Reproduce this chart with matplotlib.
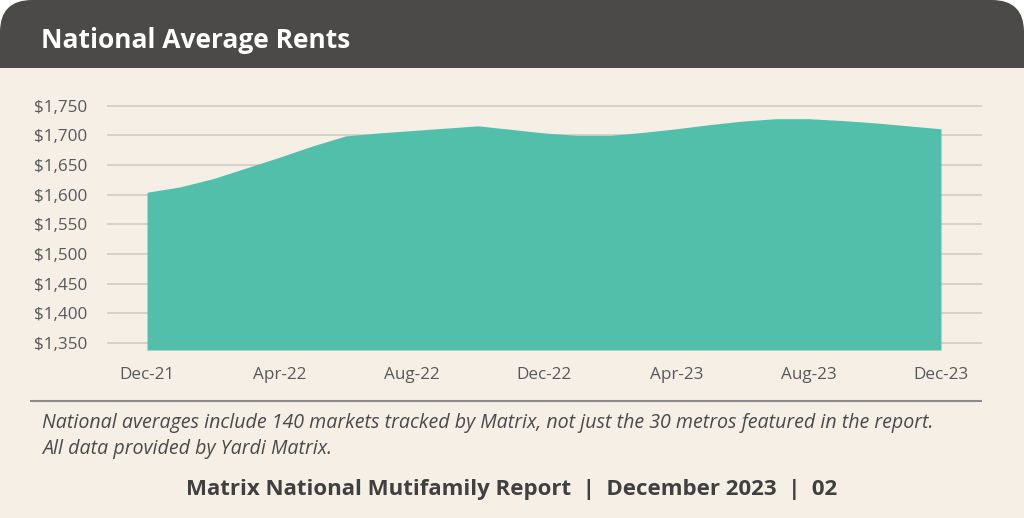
import matplotlib
matplotlib.use('Agg')
import matplotlib.pyplot as plt
from matplotlib.patches import FancyBboxPatch, Rectangle

# monthly national average rent, Dec-21 .. Dec-23
months = ['Dec-21', 'Jan-22', 'Feb-22', 'Mar-22', 'Apr-22', 'May-22', 'Jun-22',
          'Jul-22', 'Aug-22', 'Sep-22', 'Oct-22', 'Nov-22', 'Dec-22',
          'Jan-23', 'Feb-23', 'Mar-23', 'Apr-23', 'May-23', 'Jun-23',
          'Jul-23', 'Aug-23', 'Sep-23', 'Oct-23', 'Nov-23', 'Dec-23']
rents = [1604, 1613, 1627, 1645, 1663, 1682, 1699,
         1704, 1708, 1712, 1716, 1710, 1704,
         1700, 1700, 1705, 1711, 1718, 1724,
         1728, 1728, 1725, 1721, 1716, 1711]
tick_labels = ['Dec-21', 'Apr-22', 'Aug-22', 'Dec-22', 'Apr-23', 'Aug-23', 'Dec-23']
y_ticks = [1350, 1400, 1450, 1500, 1550, 1600, 1650, 1700, 1750]

title = 'National Average Rents'
note_1 = 'National averages include 140 markets tracked by Matrix, not just the 30 metros featured in the report.'
note_2 = 'All data provided by Yardi Matrix.'
footer = 'Matrix National Mutifamily Report  |  December 2023  |  02'

FONT = 'Open Sans'
CREAM = '#F5EFE6'
DARK = '#4B4A48'
TEAL = '#52BFAA'
GRID = '#D4CAC0'
TXT = '#58585A'

W, H = 1024, 518
fig = plt.figure(figsize=(W / 100, H / 100), dpi=100)
fig.patch.set_facecolor('white')

# background layer in pixel units
bg = fig.add_axes([0, 0, 1, 1])
bg.set_xlim(0, W)
bg.set_ylim(H, 0)
bg.axis('off')
bg.add_patch(FancyBboxPatch((0, 0), W, H + 60, boxstyle='round,pad=0,rounding_size=32',
                            facecolor=DARK, edgecolor='none'))
bg.add_patch(Rectangle((0, 68), W, H - 68, facecolor=CREAM, edgecolor='none'))
bg.plot([30, 982], [401, 401], color='#8C8A88', lw=1.5, solid_capstyle='butt')

bg.text(41, 47.5, title, color='white', fontsize=19, fontweight='bold',
        family=FONT, va='baseline', ha='left')
bg.text(42, 428, note_1, color='#4A4A4A', fontsize=14.1, style='italic',
        family=FONT, va='baseline', ha='left')
bg.text(42, 454, note_2, color='#4A4A4A', fontsize=14.1, style='italic',
        family=FONT, va='baseline', ha='left')
bg.text(512, 495, footer, color='#404040', fontsize=16, fontweight='bold',
        family=FONT, va='baseline', ha='center')

# chart
ax = fig.add_axes([107 / W, 1 - 350 / H, 875 / W, (350 - 102.7) / H])
ax.set_facecolor('none')
x = list(range(len(months)))
ax.fill_between(x, rents, 1338, color=TEAL, lw=0, zorder=3)
ax.set_xlim(-1.21, 25.24)
ax.set_ylim(1338, 1755)

ax.set_yticks(y_ticks)
ax.set_yticklabels(['${:,}'.format(v) for v in y_ticks])
ax.set_xticks([months.index(m) for m in tick_labels])
ax.set_xticklabels(tick_labels)
ax.grid(axis='y', color=GRID, lw=1.2, zorder=0)
ax.tick_params(length=0, labelsize=12.3, labelcolor=TXT)
ax.tick_params(axis='y', pad=14.5)
ax.tick_params(axis='x', pad=12.5)
for lab in ax.get_xticklabels() + ax.get_yticklabels():
    lab.set_family(FONT)
for s in ax.spines.values():
    s.set_visible(False)

fig.savefig('out.png', dpi=100, facecolor=fig.get_facecolor())
